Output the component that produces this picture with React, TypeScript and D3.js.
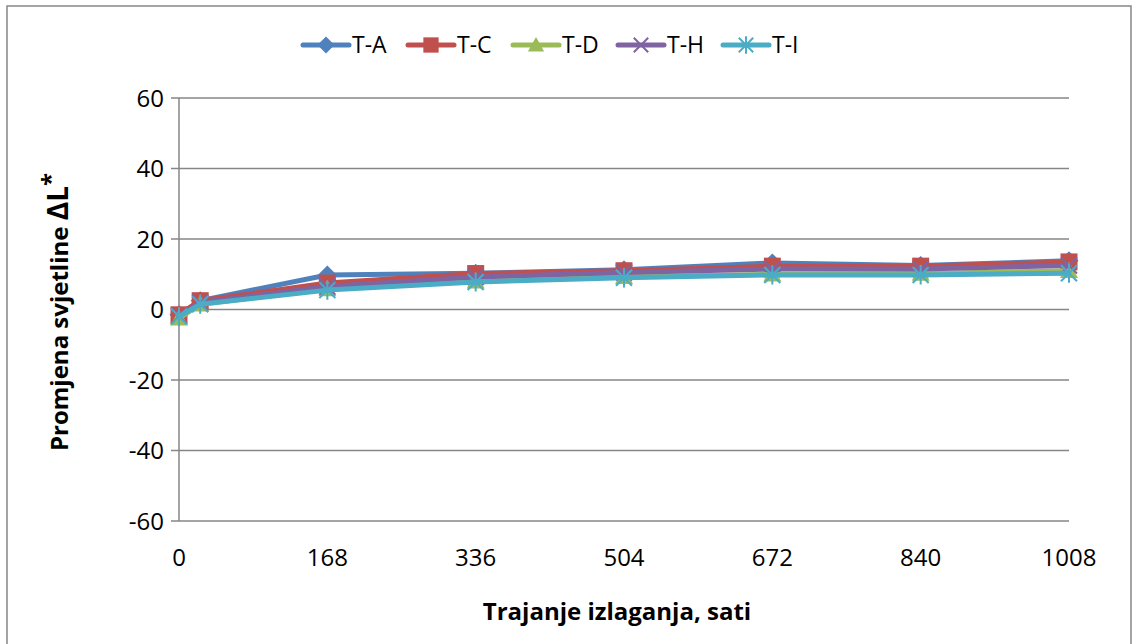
import React from "react";
import * as d3 from "d3";

const hours = [0, 24, 168, 336, 504, 672, 840, 1008];
const xTicks = [0, 168, 336, 504, 672, 840, 1008];
const yTicks = [-60, -40, -20, 0, 20, 40, 60];
const seriesNames = ["T-A", "T-C", "T-D", "T-H", "T-I"];
const seriesColors = ["#4F81BD", "#C0504D", "#9BBB59", "#8064A2", "#4BACC6"];
const markerTypes = ["diamond", "square", "triangle", "x", "asterisk"];
const valuesTA = [-1.5, 2.5, 9.8, 10.3, 11.3, 13.2, 12.5, 13.8];
const valuesTC = [-1.5, 2.5, 7.5, 10.2, 11.0, 12.3, 12.3, 13.5];
const valuesTD = [-2.5, 1.5, 5.8, 8.0, 9.3, 10.0, 10.2, 11.0];
const valuesTH = [-1.8, 2.0, 6.5, 9.2, 10.5, 11.5, 11.5, 12.5];
const valuesTI = [-2.0, 1.5, 5.5, 7.8, 9.0, 9.8, 9.8, 10.3];
const allValues = [valuesTA, valuesTC, valuesTD, valuesTH, valuesTI];

const W = 1138;
const H = 644;
const FONT = "'Open Sans', sans-serif";

function Marker({ type, x, y, color, k = 1 }: { type: string; x: number; y: number; color: string; k?: number }) {
  if (type === "diamond") {
    const s = 9.5 * k;
    return <path d={`M${x},${y - s}L${x + s},${y}L${x},${y + s}L${x - s},${y}Z`} fill={color} />;
  }
  if (type === "square") {
    const s = 8.5 * k;
    return <rect x={x - s} y={y - s} width={2 * s} height={2 * s} fill={color} />;
  }
  if (type === "triangle") {
    const s = 9 * k;
    return <path d={`M${x},${y - s}L${x + s},${y + s * 0.8}L${x - s},${y + s * 0.8}Z`} fill={color} />;
  }
  if (type === "x") {
    const s = 8 * k;
    return (
      <path d={`M${x - s},${y - s}L${x + s},${y + s}M${x - s},${y + s}L${x + s},${y - s}`} stroke={color} strokeWidth={2} />
    );
  }
  const s = 8 * k;
  return (
    <path
      d={`M${x - s},${y - s}L${x + s},${y + s}M${x - s},${y + s}L${x + s},${y - s}M${x},${y - s * 1.2}L${x},${y + s * 1.2}`}
      stroke={color}
      strokeWidth={2}
    />
  );
}

export default function App() {
  const left = 179;
  const right = 1069;
  const top = 98;
  const bottom = 521;
  const x = d3.scaleLinear().domain([0, 1008]).range([left, right]);
  const y = d3.scaleLinear().domain([-60, 60]).range([bottom, top]);
  const line = d3
    .line<number>()
    .x((_, i) => x(hours[i]))
    .y((d) => y(d));

  const legendX = [300, 405, 510, 615, 720];

  return (
    <svg width={W} height={H} style={{ position: "absolute", left: 0, top: 0 }} fontFamily={FONT}>
      <rect x={0} y={0} width={W} height={H} fill="#fff" />
      <rect x={7} y={6} width={1124} height={645} fill="none" stroke="#868686" strokeWidth={1.5} />
      {yTicks.map((t) => (
        <g key={t}>
          <line x1={left - 8} x2={right} y1={y(t)} y2={y(t)} stroke="#868686" strokeWidth={1.5} />
          <text x={164} y={y(t) + 8.5} textAnchor="end" fontSize={24} fill="#000">
            {t}
          </text>
        </g>
      ))}
      <line x1={left} x2={left} y1={top} y2={bottom} stroke="#868686" strokeWidth={1.5} />
      {xTicks.map((t) => (
        <text key={t} x={x(t)} y={566} textAnchor="middle" fontSize={24} fill="#000">
          {t}
        </text>
      ))}
      {allValues.map((vals, si) => (
        <g key={si}>
          <path d={line(vals) || ""} fill="none" stroke={seriesColors[si]} strokeWidth={5} strokeLinejoin="round" strokeLinecap="round" />
          {vals.map((v, i) => (
            <Marker key={i} type={markerTypes[si]} x={x(hours[i])} y={y(v)} color={seriesColors[si]} />
          ))}
        </g>
      ))}
      {seriesNames.map((n, i) => (
        <g key={n}>
          <line x1={legendX[i] + 3} x2={legendX[i] + 49} y1={45} y2={45} stroke={seriesColors[i]} strokeWidth={5} strokeLinecap="round" />
          <Marker type={markerTypes[i]} x={legendX[i] + 26} y={45} color={seriesColors[i]} k={0.9} />
          <text x={legendX[i] + 52} y={53} fontSize={23} fill="#000">
            {n}
          </text>
        </g>
      ))}
      <text x={617} y={620} textAnchor="middle" fontSize={24} fontWeight="bold" fill="#000">
        Trajanje izlaganja, sati
      </text>
      <text transform={`translate(68,${312}) rotate(-90)`} textAnchor="middle" fontSize={24} fontWeight="bold" fill="#000">
        Promjena svjetline <tspan fontSize={28}>ΔL</tspan>
        <tspan fontSize={24} dy={-9}>*</tspan>
      </text>
    </svg>
  );
}
